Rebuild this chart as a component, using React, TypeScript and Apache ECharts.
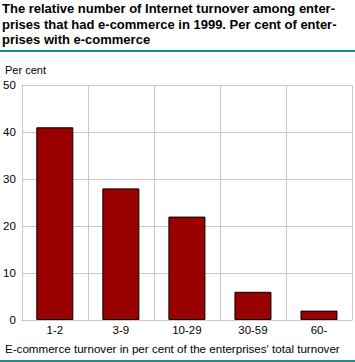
import React, { useEffect, useRef } from "react";
import * as echarts from "echarts";

const categories = ["1-2", "3-9", "10-29", "30-59", "60-"];
const values = [41, 28, 22, 6, 2];
const titleLines = [
  "The relative number of Internet turnover among enter-",
  "prises that had e-commerce in 1999. Per cent of enter-",
  "prises with e-commerce",
];
const yAxisTitle = "Per cent";
const xAxisTitle = "E-commerce turnover in per cent of the enterprises' total turnover";

export default function App() {
  const ref = useRef<HTMLDivElement>(null);
  useEffect(() => {
    const chart = echarts.init(ref.current!, null, { renderer: "svg" });
    const font = "Liberation Sans, Arial, sans-serif";
    chart.setOption({
      animation: false,
      textStyle: { fontFamily: font },
      grid: { left: 20, right: 3, top: 85, bottom: 42, containLabel: false },
      graphic: [
        {
          type: "text",
          left: 2,
          top: 1,
          style: {
            text: titleLines.join("\n"),
            font: "bold 13px " + font,
            lineHeight: 15.5,
            fill: "#000",
          },
        },
        { type: "rect", shape: { x: 0, y: 50, width: 355, height: 2 }, style: { fill: "#1f8c8c" } },
        {
          type: "text",
          left: 5,
          top: 64,
          style: { text: yAxisTitle, font: "11px " + font, fill: "#000" },
        },
        {
          type: "text",
          left: 5,
          top: 342,
          style: { text: xAxisTitle, font: "11.6px " + font, fill: "#000" },
        },
        { type: "rect", shape: { x: 0, y: 360, width: 355, height: 2 }, style: { fill: "#1f8c8c" } },
      ],
      xAxis: {
        type: "category",
        data: categories,
        boundaryGap: true,
        axisLine: { show: true, lineStyle: { color: "#c8c8c8", width: 1 } },
        axisTick: { show: false },
        axisLabel: { color: "#000", fontSize: 11.5, margin: 4, fontFamily: font },
        splitLine: { show: true, lineStyle: { color: "#c8c8c8", width: 1 } },
      },
      yAxis: {
        type: "value",
        min: 0,
        max: 50,
        interval: 10,
        axisLine: { show: true, lineStyle: { color: "#c8c8c8", width: 1 } },
        axisTick: { show: false },
        axisLabel: { color: "#000", fontSize: 11.5, margin: 6, fontFamily: font },
        splitLine: { show: true, lineStyle: { color: "#c8c8c8", width: 1 } },
      },
      series: [
        {
          type: "bar",
          data: values,
          barWidth: 37,
          itemStyle: { color: "#990000", borderColor: "#000", borderWidth: 1 },
        },
      ],
    });
    return () => chart.dispose();
  }, []);
  return <div ref={ref} style={{ width: 355, height: 362, position: "absolute", left: 0, top: 0 }} />;
}
